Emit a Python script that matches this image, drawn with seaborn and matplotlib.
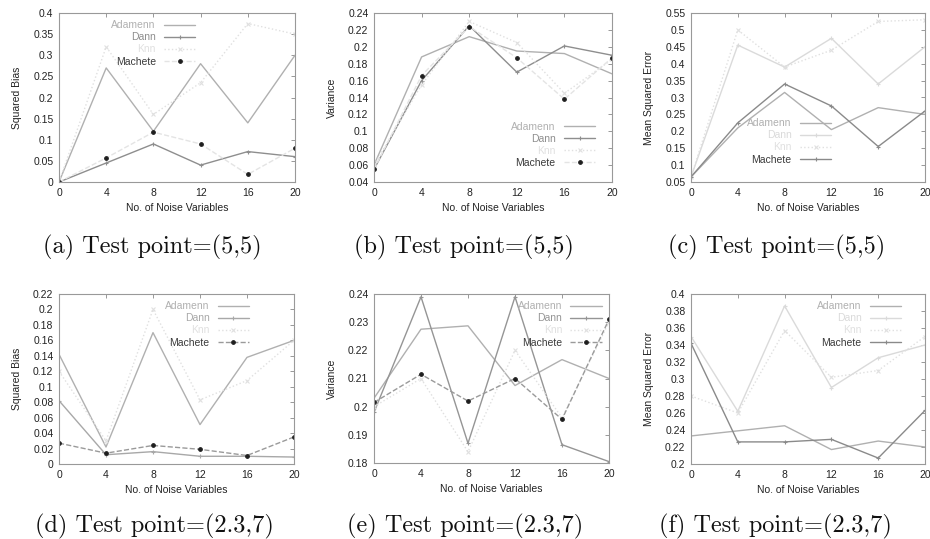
import numpy as np
import pandas as pd
import matplotlib
matplotlib.use('Agg')
import matplotlib.pyplot as plt
from matplotlib.ticker import FuncFormatter
import seaborn as sns

# x positions shared by every panel
noise_vars = [0, 4, 8, 12, 16, 20]
methods = ['Adamenn', 'Dann', 'Knn', 'Machete']

# (a) squared bias, test point (5,5)
bias_a = {
    'Adamenn': [0.0, 0.27, 0.12, 0.28, 0.14, 0.30],
    'Dann': [0.0, 0.045, 0.09, 0.04, 0.072, 0.06],
    'Knn': [0.0, 0.32, 0.16, 0.235, 0.375, 0.35],
    'Machete': [0.0, 0.057, 0.118, 0.09, 0.018, 0.08],
}
# (b) variance, test point (5,5)
var_b = {
    'Adamenn': [0.06, 0.188, 0.212, 0.195, 0.192, 0.168],
    'Dann': [0.055, 0.16, 0.225, 0.17, 0.201, 0.19],
    'Knn': [0.06, 0.155, 0.23, 0.205, 0.145, 0.185],
    'Machete': [0.055, 0.166, 0.224, 0.187, 0.138, 0.187],
}
# (c) mean squared error, test point (5,5)
mse_c = {
    'Adamenn': [0.065, 0.21, 0.315, 0.205, 0.27, 0.25],
    'Dann': [0.065, 0.455, 0.39, 0.475, 0.34, 0.45],
    'Knn': [0.065, 0.50, 0.39, 0.44, 0.525, 0.53],
    'Machete': [0.065, 0.225, 0.34, 0.275, 0.155, 0.26],
}
# (d) squared bias, test point (2.3,7)
bias_d = {
    'Adamenn': [0.142, 0.022, 0.17, 0.051, 0.138, 0.16],
    'Dann': [0.082, 0.012, 0.016, 0.010, 0.010, 0.009],
    'Knn': [0.12, 0.03, 0.20, 0.083, 0.108, 0.16],
    'Machete': [0.027, 0.014, 0.024, 0.019, 0.011, 0.035],
}
# (e) variance, test point (2.3,7)
var_e = {
    'Adamenn': [0.203, 0.2275, 0.2287, 0.2075, 0.2167, 0.21],
    'Dann': [0.198, 0.239, 0.187, 0.239, 0.1865, 0.1805],
    'Knn': [0.20, 0.21, 0.184, 0.22, 0.196, 0.23],
    'Machete': [0.2015, 0.2115, 0.202, 0.21, 0.1955, 0.231],
}
# (f) mean squared error, test point (2.3,7)
mse_f = {
    'Adamenn': [0.233, 0.239, 0.245, 0.217, 0.227, 0.22],
    'Dann': [0.35, 0.262, 0.386, 0.29, 0.325, 0.34],
    'Knn': [0.28, 0.26, 0.357, 0.302, 0.31, 0.35],
    'Machete': [0.342, 0.226, 0.226, 0.229, 0.207, 0.263],
}

captions = ['(a) Test point=(5,5)', '(b) Test point=(5,5)', '(c) Test point=(5,5)',
            '(d) Test point=(2.3,7)', '(e) Test point=(2.3,7)', '(f) Test point=(2.3,7)']
ylabels = ['Squared Bias', 'Variance', 'Mean Squared Error'] * 2
ylims = [(0, 0.4), (0.04, 0.24), (0.05, 0.55), (0, 0.22), (0.18, 0.24), (0.2, 0.4)]
ysteps = [0.05, 0.02, 0.05, 0.02, 0.01, 0.02]
panels = [bias_a, var_b, mse_c, bias_d, var_e, mse_f]

# legend placement per panel
legend_locs = [(0.40, 1.0), (0.96, 0.04), (0.42, 0.06), (0.84, 1.0), (1.0, 1.0), (0.93, 1.0)]
legend_anchor = ['upper center', 'lower right', 'lower center', 'upper right', 'upper right', 'upper right']

# per panel styling (the scan renders each panel a bit differently)
dann_color = ['#8e8e8e', '#8e8e8e', '#dadada', '#a8a8a8', '#959595', '#dadada']
machete_line = ['--', '--', '-', '--', '--', '-']
machete_mark = ['o', 'o', '+', 'o', 'o', '+']
machete_color = ['#e4e4e4', '#e4e4e4', '#8a8a8a', '#9a9a9a', '#9a9a9a', '#8a8a8a']

base_colors = {'Adamenn': '#b0b0b0', 'Knn': '#e0e0e0'}
base_style = {'Adamenn': '-', 'Dann': '-', 'Knn': ':'}
base_mark = {'Adamenn': None, 'Dann': '+', 'Knn': 'x'}

# axes boxes in pixels: left, top, right, bottom
W, H = 930, 539
boxes = [(59, 13, 295, 182), (374, 13, 612, 182), (691, 13, 925, 182),
         (59, 294, 294, 464), (374, 294, 609, 463), (691, 294, 925, 464)]
cap_pos = [(152, 247), (464, 247), (777, 247), (154, 526), (465, 526), (775, 526)]

sns.set_theme(style='white')
plt.rcParams['font.family'] = ['Liberation Sans', 'DejaVu Sans']

fig = plt.figure(figsize=(9.3, 5.39), dpi=100)

for i, data in enumerate(panels):
    l, t, r, b = boxes[i]
    ax = fig.add_axes([l / W, 1 - b / H, (r - l) / W, (b - t) / H])
    colors = dict(base_colors, Dann=dann_color[i], Machete=machete_color[i])
    styles = dict(base_style, Machete=machete_line[i])
    marks = dict(base_mark, Machete=machete_mark[i])
    for m in methods:
        df = pd.DataFrame({'noise': noise_vars, 'value': data[m]})
        if m == 'Machete' and marks[m] == 'o':
            mk_color, ms = '#1e1e1e', 2.6
        else:
            mk_color, ms = colors[m], 3.5
        sns.lineplot(data=df, x='noise', y='value', ax=ax, label=m,
                     color=colors[m], linestyle=styles[m], linewidth=1.0,
                     marker=marks[m], markersize=ms, markeredgewidth=0.8,
                     markerfacecolor=mk_color, markeredgecolor=mk_color)

    ax.set_xlim(0, 20)
    ax.set_ylim(*ylims[i])
    ax.set_xticks(noise_vars)
    lo, hi = ylims[i]
    ax.set_yticks(np.round(np.arange(lo, hi + ysteps[i] / 2, ysteps[i]), 3))
    ax.yaxis.set_major_formatter(FuncFormatter(lambda v, p: '%g' % v))
    ax.tick_params(direction='in', top=True, right=True, length=3, width=0.6,
                   color='#888888', labelsize=7.5, pad=4, labelcolor='#222222')
    for sp in ax.spines.values():
        sp.set_color('#999999')
        sp.set_linewidth(0.8)
    ax.set_xlabel('No. of Noise Variables', fontsize=7.5, color='#222222', labelpad=4)
    ax.set_ylabel(ylabels[i], fontsize=7.5, color='#222222', labelpad=8)

    leg = ax.legend(loc=legend_anchor[i], bbox_to_anchor=legend_locs[i], frameon=False,
                    markerfirst=False, fontsize=7.5, handlelength=3.0, labelspacing=0.2,
                    borderaxespad=0.3, handletextpad=0.8)
    for txt, m in zip(leg.get_texts(), methods):
        if m == 'Machete':
            txt.set_color('#3a3a3a')
        else:
            txt.set_color(colors[m])

    fig.text(cap_pos[i][0] / W, 1 - cap_pos[i][1] / H, captions[i],
             family='cmr10', fontsize=17.5, ha='center', va='center', color='#111111')

fig.savefig('out.png', dpi=100)
